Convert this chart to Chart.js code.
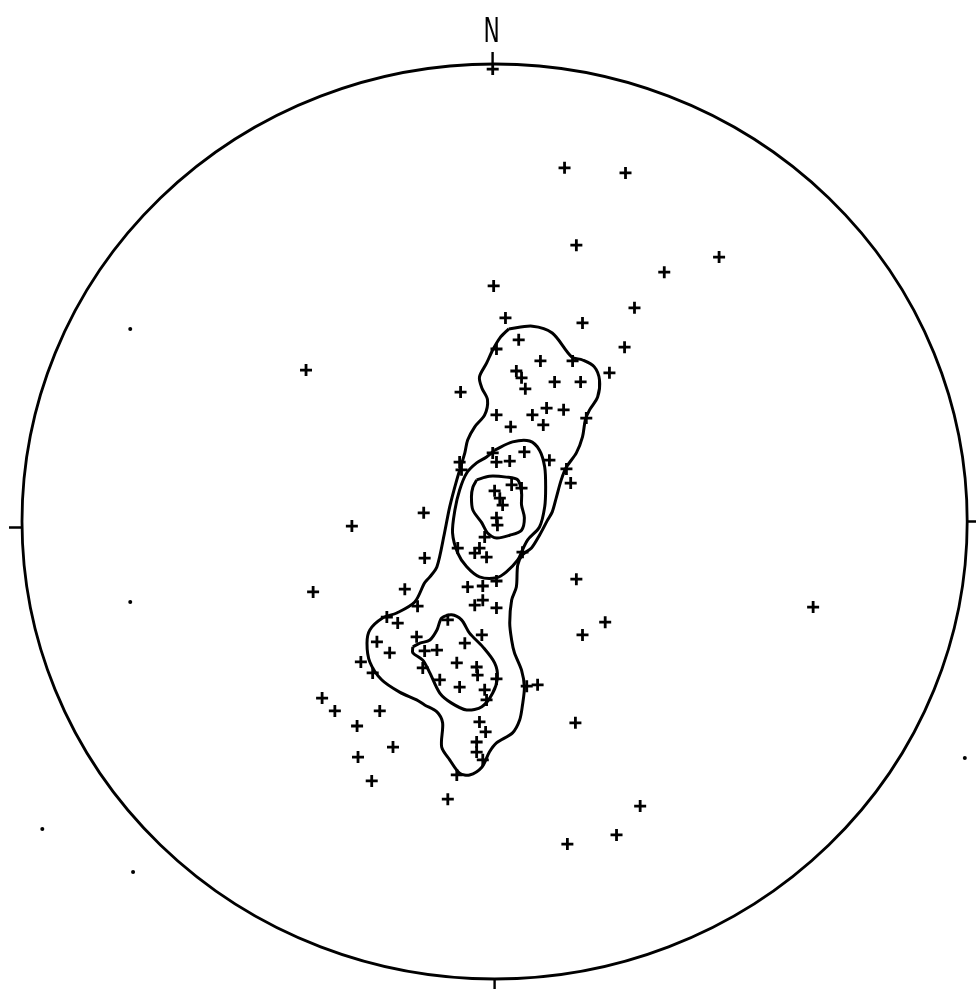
<!DOCTYPE html>
<html>
<head>
<meta charset="utf-8">
<script src="https://cdn.jsdelivr.net/npm/chart.js@4/dist/chart.umd.min.js"></script>
<style>
  html, body { margin: 0; padding: 0; background: #fff; }
  #wrap { width: 976px; height: 989px; position: relative; }
</style>
</head>
<body>
<div id="wrap"><canvas id="net"></canvas></div>
<script>
// stereonet, unit circle = 100 in both directions
const northLabel = `N`;

// poles to planes (crosses)
const poles = [
  [14.8, 77.3], [27.7, 76.2], [17.3, 60.4], [47.5, 57.8], [35.9, 54.5], [29.6, 46.7],
  [18.6, 43.4], [-0.2, 51.5], [2.3, 44.5], [27.5, 38.1], [24.3, 32.5], [-39.9, 33.1],
  [-7.2, 28.3], [5.1, 39.7], [0.4, 37.7], [9.7, 35.1], [16.5, 35.1], [4.6, 32.9],
  [5.7, 31.4], [6.5, 29.0], [12.7, 30.5], [18.2, 30.5], [11.0, 24.8], [14.6, 24.4],
  [8.0, 23.3], [10.3, 21.1], [0.4, 23.3], [3.4, 20.7], [19.4, 22.6], [6.3, 15.2],
  [-0.4, 15.0], [3.2, 13.2], [-7.4, 13.0], [-7.0, 11.3], [11.6, 13.4], [15.2, 11.5],
  [16.1, 8.4], [0.4, 13.0], [0.0, 6.7], [3.6, 8.0], [5.7, 7.3], [1.1, 5.1],
  [1.7, 3.6], [0.4, 0.8], [0.6, -0.8], [-2.1, -3.4], [-7.8, -5.8], [-3.2, -5.8],
  [-4.2, -6.9], [-1.7, -7.8], [5.9, -6.7], [-5.7, -14.3], [-2.5, -14.1], [0.4, -13.0],
  [17.3, -12.6], [-15.0, 1.9], [-30.2, -1.0], [-14.8, -8.0], [-38.4, -15.4], [-19.0, -14.8],
  [-16.3, -18.5], [-4.2, -18.3], [-2.5, -17.2], [0.4, -18.9], [-20.5, -22.2], [-9.9, -21.5],
  [-22.8, -20.9], [18.6, -24.8], [23.4, -22.0], [-24.9, -26.3], [-16.5, -25.2], [-6.3, -26.6],
  [-2.7, -24.8], [-22.2, -28.7], [-28.3, -30.7], [-14.8, -28.3], [-12.2, -28.1], [-8.0, -30.9],
  [-3.8, -31.8], [-3.6, -33.6], [-15.2, -32.0], [-25.8, -33.1], [0.4, -34.4], [-11.6, -34.6],
  [-7.4, -36.2], [-2.1, -36.8], [-1.7, -39.0], [6.8, -36.0], [9.1, -35.7], [-36.5, -38.6],
  [-33.8, -41.4], [-24.3, -41.4], [-29.1, -44.7], [-21.5, -49.3], [-28.9, -51.5], [-26.0, -56.7],
  [-9.9, -60.7], [-3.2, -43.8], [-1.9, -46.0], [-3.8, -48.2], [-3.8, -50.4], [-2.5, -52.1],
  [-8.0, -55.4], [17.1, -44.0], [30.8, -62.2], [25.8, -68.5], [15.4, -70.5], [67.4, -18.7],
  [-0.4, 98.9]
];

// small dots
const dots = [[-77.1, 42.1], [-77.1, -17.6], [-95.7, -67.2], [-76.5, -76.6], [99.5, -51.7]];

// density contours
const outerContour = [
  [3.0, 42.1], [8.0, 42.7], [12.2, 41.2], [16.3, 36.0], [18.6, 35.3], [21.1, 33.8],
  [22.2, 30.9], [21.8, 27.2], [20.1, 24.4], [19.2, 22.2], [18.6, 18.5], [17.3, 15.0],
  [15.2, 11.9], [14.1, 9.1], [13.1, 5.4], [12.2, 2.1], [11.2, 0.3], [9.5, -3.0],
  [7.8, -5.8], [5.9, -7.3], [4.9, -9.5], [4.6, -14.3], [3.6, -17.2], [3.2, -22.2],
  [3.6, -25.9], [4.2, -28.7], [5.7, -32.5], [6.3, -36.2], [5.9, -40.1], [5.3, -43.4],
  [3.8, -46.2], [0.4, -48.4], [-1.1, -50.4], [-2.7, -53.7], [-5.3, -55.4], [-7.4, -55.0],
  [-9.5, -52.1], [-11.2, -49.3], [-11.0, -44.0], [-12.2, -41.6], [-14.8, -40.1], [-16.5, -39.0],
  [-20.1, -37.3], [-23.9, -34.6], [-26.4, -30.7], [-27.0, -26.6], [-26.4, -23.7], [-23.7, -21.1],
  [-20.7, -20.0], [-16.9, -17.6], [-14.8, -13.4], [-13.7, -12.1], [-12.2, -9.9], [-10.6, -2.5],
  [-9.5, 3.2], [-8.0, 9.1], [-6.3, 15.0], [-5.7, 17.8], [-4.2, 20.7], [-2.1, 23.3],
  [-1.5, 26.6], [-2.7, 29.2], [-3.2, 31.6], [-1.7, 34.6], [-0.4, 37.5], [1.1, 40.1],
  [3.0, 42.1]
];
const middleContour = [
  [0.0, 15.6], [3.8, 17.4], [7.4, 17.6], [9.5, 15.6], [10.6, 11.9], [10.8, 7.5],
  [10.6, 3.2], [9.5, -1.2], [7.0, -4.0], [5.9, -6.2], [4.9, -8.4], [2.5, -11.0],
  [0.4, -12.3], [-3.2, -12.1], [-5.9, -9.9], [-7.8, -6.9], [-8.9, -2.5], [-8.4, 2.5],
  [-7.4, 6.9], [-5.9, 10.6], [-3.8, 12.8], [-1.7, 14.1], [0.0, 15.6]
];
const innerContour = [
  [-3.8, 9.1], [-1.1, 9.9], [2.5, 9.7], [4.9, 9.1], [5.7, 6.4], [5.7, 3.6],
  [6.3, 0.8], [5.7, -1.9], [3.2, -3.0], [0.4, -3.6], [-1.5, -2.5], [-2.7, -0.3],
  [-4.6, 2.5], [-4.9, 5.4], [-4.6, 7.5], [-3.8, 9.1]
];
const lowerContour = [
  [-17.3, -27.4], [-15.8, -26.6], [-13.7, -25.9], [-12.2, -23.7], [-11.2, -21.1], [-9.1, -20.4],
  [-7.0, -21.5], [-5.3, -24.4], [-2.5, -27.4], [0.0, -30.9], [0.6, -34.0], [-0.4, -37.5],
  [-2.7, -40.5], [-5.9, -41.2], [-9.1, -39.7], [-11.6, -37.5], [-13.7, -33.1], [-15.2, -30.3],
  [-17.3, -28.7], [-17.3, -27.4]
];

const toPoints = (pairs) => pairs.map(([x, y]) => ({x, y}));

const contourSet = (pairs) => ({
  data: toPoints(pairs),
  showLine: true,
  borderColor: `#000`,
  borderWidth: 3,
  tension: 0.3,
  pointRadius: 0,
  fill: false
});

// primitive circle, compass ticks and the N label
const netFrame = {
  id: `netFrame`,
  afterDatasetsDraw(chart) {
    const {ctx, scales: {x, y}} = chart;
    const cx = x.getPixelForValue(0);
    const cy = y.getPixelForValue(0);
    const rx = x.getPixelForValue(100) - cx;
    const ry = cy - y.getPixelForValue(100);
    ctx.save();
    ctx.strokeStyle = `#000`;
    ctx.lineWidth = 2.8;
    ctx.beginPath();
    ctx.ellipse(cx, cy, rx, ry, 0, 0, Math.PI * 2);
    ctx.stroke();

    ctx.lineWidth = 2.4;
    ctx.beginPath();
    ctx.moveTo(cx - 2, cy - ry);
    ctx.lineTo(cx - 2, cy - ry - 12);
    ctx.moveTo(cx - rx, cy + 6);
    ctx.lineTo(cx - rx - 13, cy + 6);
    ctx.moveTo(cx + rx, cy);
    ctx.lineTo(cx + rx + 10, cy);
    ctx.moveTo(cx, cy + ry);
    ctx.lineTo(cx, cy + ry + 12);
    ctx.stroke();

    ctx.fillStyle = `#000`;
    ctx.font = `34px "DejaVu Sans"`;
    ctx.textAlign = `center`;
    ctx.textBaseline = `alphabetic`;
    ctx.translate(cx - 3, cy - ry - 22);
    ctx.scale(0.64, 1);
    ctx.fillText(northLabel, 0, 0);
    ctx.restore();
  }
};

new Chart(document.getElementById(`net`), {
  type: `scatter`,
  data: {
    datasets: [
      contourSet(outerContour),
      contourSet(middleContour),
      contourSet(innerContour),
      contourSet(lowerContour),
      {
        data: toPoints(poles),
        pointStyle: `cross`,
        pointRadius: 6,
        borderColor: `#000`,
        borderWidth: 2.8
      },
      {
        data: toPoints(dots),
        pointStyle: `circle`,
        pointRadius: 2,
        backgroundColor: `#000`,
        borderColor: `#000`,
        borderWidth: 0
      }
    ]
  },
  options: {
    responsive: true,
    maintainAspectRatio: false,
    animation: false,
    layout: {padding: {left: 22, right: 7, top: 64, bottom: 10}},
    scales: {
      x: {type: `linear`, min: -100, max: 100, display: false},
      y: {type: `linear`, min: -100, max: 100, display: false}
    },
    plugins: {
      legend: {display: false},
      tooltip: {enabled: false}
    }
  },
  plugins: [netFrame]
});
</script>
</body>
</html>
